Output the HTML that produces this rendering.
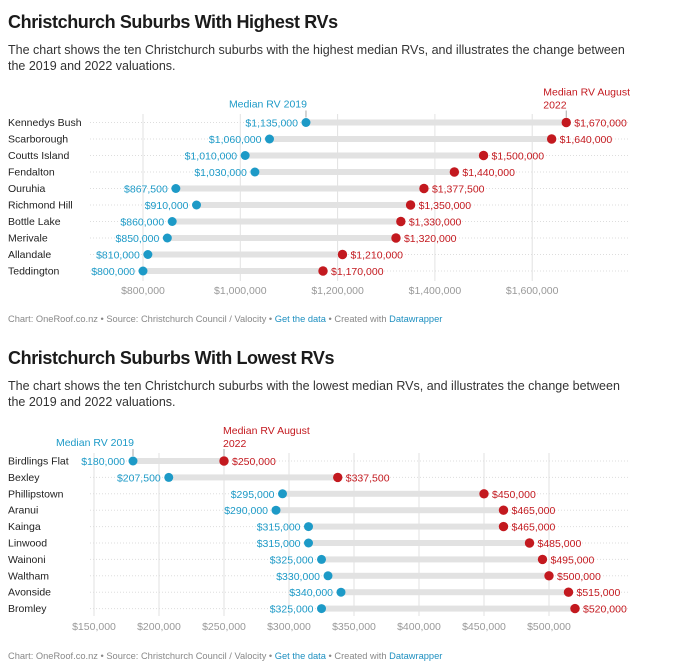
<!DOCTYPE html>
<html><head><meta charset="utf-8"><style>
body{margin:0;background:#fff;}
svg{display:block;font-family:"Liberation Sans",Arial,sans-serif;}
.t{font-size:18px;font-weight:bold;fill:#1b1b1b;letter-spacing:-0.4px}
.d{font-size:12.5px;fill:#333}
.r{font-size:10.5px;fill:#222}
.b{font-size:10.5px;fill:#1d9ac7}
.e{font-size:10.5px;fill:#c3191f}
.ax{font-size:10.5px;fill:#999}
.f{font-size:9.3px;fill:#888}
.fl{fill:#1d8fc0}
</style></head><body>
<svg width="673" height="671" viewBox="0 0 673 671" xmlns="http://www.w3.org/2000/svg">
<text x="8" y="28" class="t">Christchurch Suburbs With Highest RVs</text>
<text x="8" y="54" class="d">The chart shows the ten Christchurch suburbs with the highest median RVs, and illustrates the change between</text>
<text x="8" y="70" class="d">the 2019 and 2022 valuations.</text>
<g id="c1"></g>
<text x="8" y="322" class="f">Chart: OneRoof.co.nz • Source: Christchurch Council / Valocity • <tspan class="fl">Get the data</tspan> • Created with <tspan class="fl">Datawrapper</tspan></text>

<text x="8" y="364" class="t">Christchurch Suburbs With Lowest RVs</text>
<text x="8" y="390" class="d">The chart shows the ten Christchurch suburbs with the lowest median RVs, and illustrates the change between</text>
<text x="8" y="406" class="d">the 2019 and 2022 valuations.</text>
<g id="c2"></g>
<text x="8" y="659" class="f">Chart: OneRoof.co.nz • Source: Christchurch Council / Valocity • <tspan class="fl">Get the data</tspan> • Created with <tspan class="fl">Datawrapper</tspan></text>
</svg>
<script>
const NS="http://www.w3.org/2000/svg";
function el(p,t,a,txt){const e=document.createElementNS(NS,t);for(const k in a)e.setAttribute(k,a[k]);if(txt!=null)e.textContent=txt;p.appendChild(e);return e;}
function fmt(v){return "$"+(v*1000).toLocaleString("en-US");}
function chart(id,cfg){
 const g=document.getElementById(id);
 const X=v=>cfg.x0+(v-cfg.v0)*cfg.k;
 cfg.ticks.forEach(t=>{el(g,"line",{x1:X(t),x2:X(t),y1:cfg.gy0,y2:cfg.gy1,stroke:"#e2e2e2","stroke-width":1});
  el(g,"text",{x:X(t),y:cfg.axy,"text-anchor":"middle",class:"ax"},fmt(t));});
 cfg.rows.forEach((r,i)=>{const y=cfg.y0+i*cfg.dy;
  el(g,"line",{x1:90,x2:630,y1:y,y2:y,stroke:"#ddd","stroke-dasharray":"1,2","stroke-width":1});
  el(g,"text",{x:8,y:y+3.5,class:"r"},r[0]);
  el(g,"rect",{x:X(r[1]),y:y-3,width:X(r[2])-X(r[1]),height:6,fill:"#e2e2e2"});
  el(g,"circle",{cx:X(r[1]),cy:y,r:4.5,fill:"#1d9ac7"});
  el(g,"circle",{cx:X(r[2]),cy:y,r:4.7,fill:"#c3191f"});
  el(g,"text",{x:X(r[1])-8,y:y+4,"text-anchor":"end",class:"b"},fmt(r[1]));
  el(g,"text",{x:X(r[2])+8,y:y+4,class:"e"},fmt(r[2]));
 });
 const r0=cfg.rows[0],y=cfg.y0;
 el(g,"line",{x1:X(r0[1]),x2:X(r0[1]),y1:y-12,y2:y-5,stroke:"#aaa"});
 el(g,"text",{x:X(r0[1])+1,y:y-15,"text-anchor":"end",class:"b"},"Median RV 2019");
 el(g,"line",{x1:X(r0[2]),x2:X(r0[2]),y1:y-12,y2:y-5,stroke:"#aaa"});
 el(g,"text",{x:X(r0[2])+cfg.aoff,y:y-27,class:"e"},"Median RV August");
 el(g,"text",{x:X(r0[2])+cfg.aoff,y:y-14,class:"e"},"2022");
}
chart("c1",{x0:143,v0:800,k:0.4865,aoff:-23,ticks:[800,1000,1200,1400,1600],gy0:114,gy1:281,axy:294,y0:122.5,dy:16.5,
rows:[["Kennedys Bush",1135,1670],["Scarborough",1060,1640],["Coutts Island",1010,1500],["Fendalton",1030,1440],["Ouruhia",867.5,1377.5],["Richmond Hill",910,1350],["Bottle Lake",860,1330],["Merivale",850,1320],["Allandale",810,1210],["Teddington",800,1170]]});
chart("c2",{x0:94,v0:150,k:1.3,aoff:-1,ticks:[150,200,250,300,350,400,450,500],gy0:453,gy1:616,axy:630,y0:461,dy:16.4,
rows:[["Birdlings Flat",180,250],["Bexley",207.5,337.5],["Phillipstown",295,450],["Aranui",290,465],["Kainga",315,465],["Linwood",315,485],["Wainoni",325,495],["Waltham",330,500],["Avonside",340,515],["Bromley",325,520]]});
</script>
</body></html>
